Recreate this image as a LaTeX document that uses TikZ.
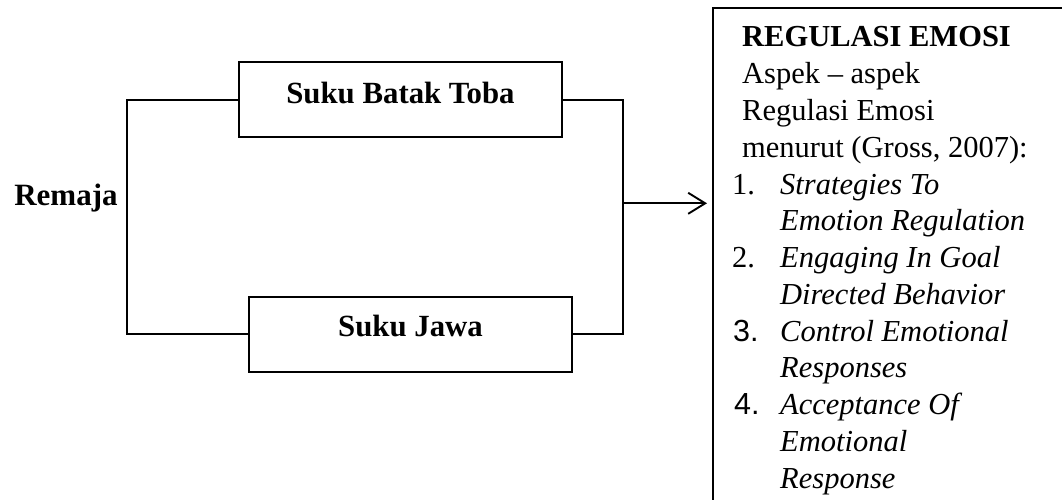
\documentclass[tikz,border=0pt]{standalone}
\usepackage{fontspec}
\setmainfont{Liberation Serif}
\newfontfamily\sansnum{Liberation Sans}
\usetikzlibrary{arrows.meta}

\begin{document}
\begin{tikzpicture}[x=1pt,y=-1pt,
    every node/.style={inner sep=0pt, font=\fontsize{30.5}{36.75}\selectfont},
    frame/.style={draw, line width=1.7pt},
    wire/.style={line width=1.7pt},
    flow/.style={line width=1.7pt, -{Straight Barb[length=17pt,width=21pt,line width=1.9pt]}},
    txt/.style={anchor=base west},
    itm/.style={anchor=base west, font=\fontsize{30.5}{36.75}\selectfont\itshape}]
  \useasboundingbox (0,0) rectangle (1062,500);

  % ethnic groups
  \node[frame, minimum width=322.5pt, minimum height=75pt] (toba) at (400.5,99.8) {};
  \node[anchor=base, font=\fontsize{30.8}{36.75}\selectfont\bfseries] (tobatxt) at (400.5,103.3) {Suku Batak Toba};
  \node[frame, minimum width=322.5pt, minimum height=75pt] (jawa) at (410.5,334.2) {};
  \node[anchor=base, font=\fontsize{30.8}{36.75}\selectfont\bfseries] (jawatxt) at (410.5,336.7) {Suku Jawa};

  % subject
  \node[anchor=base, font=\fontsize{31}{36.75}\selectfont\bfseries] (remaja) at (66,205) {Remaja};

  % branching lines
  \coordinate (lj) at (127,200);
  \coordinate (rj) at (623,203.3);
  \draw[wire] (toba.west) -| (lj) |- (jawa.west);
  \draw[wire] (toba.east) -| (rj) |- (jawa.east);

  % emotion regulation panel
  \node[frame, anchor=north west, minimum width=420pt, minimum height=540pt] (reg) at (712,7) {};
  \draw[flow] (rj) -- ([xshift=-5pt]rj -| reg.west);

  \node[txt, font=\fontsize{30.5}{36.75}\selectfont\bfseries] (l0) at (742,47) {REGULASI EMOSI};
  \node[txt] (l1) at (742,83.75) {Aspek – aspek};
  \node[txt] (l2) at (742,120.5) {Regulasi Emosi};
  \node[txt] (l3) at (742,157.25) {menurut (Gross, 2007):};

  \node[txt] (n1) at (732,194) {1.};
  \node[itm] (i1a) at (780,194) {Strategies To};
  \node[itm] (i1b) at (780,230.75) {Emotion Regulation};

  \node[txt] (n2) at (732,267.5) {2.};
  \node[itm] (i2a) at (780,267.5) {Engaging In Goal};
  \node[itm] (i2b) at (780,304.25) {Directed Behavior};

  \node[txt, font=\fontsize{30.5}{36.75}\sansnum] (n3) at (733,341) {3.};
  \node[itm] (i3a) at (780,341) {Control Emotional};
  \node[itm] (i3b) at (780,377.75) {Responses};

  \node[txt, font=\fontsize{30.5}{36.75}\sansnum] (n4) at (734,414.5) {4.};
  \node[itm] (i4a) at (780,414.5) {Acceptance Of};
  \node[itm] (i4b) at (780,451.25) {Emotional};
  \node[itm] (i4c) at (780,488) {Response};
\end{tikzpicture}
\end{document}
